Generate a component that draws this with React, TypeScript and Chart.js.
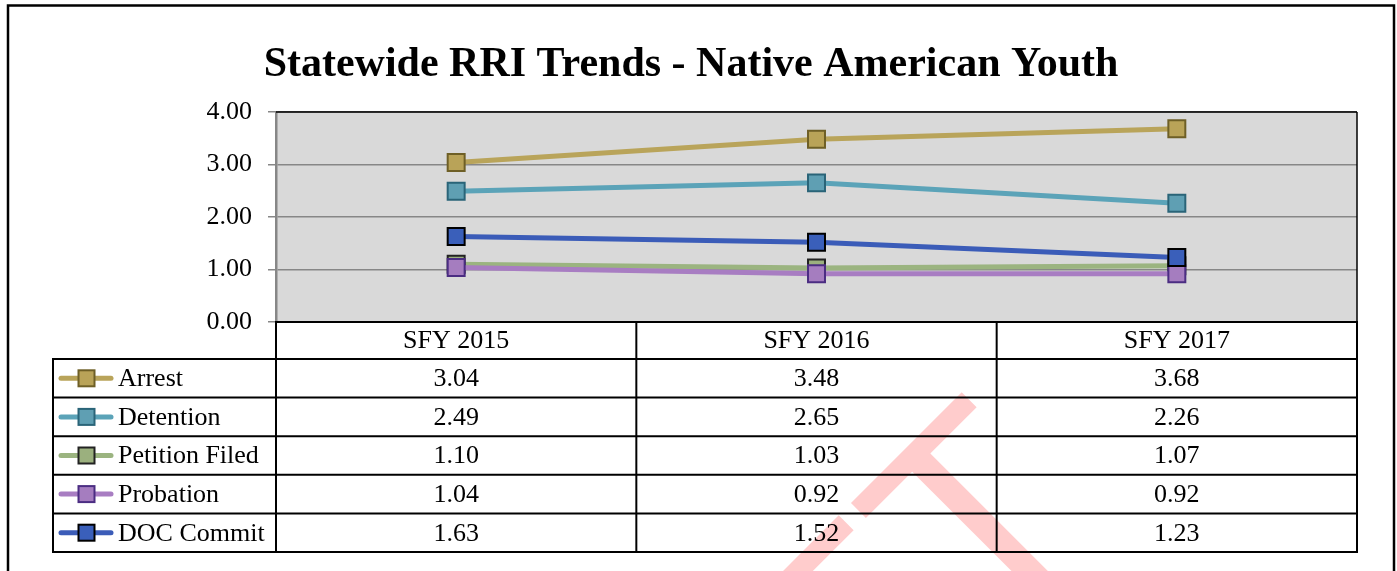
import React, { useEffect, useRef } from 'react';
import { Chart, registerables } from 'chart.js';

Chart.register(...registerables);

const chartTitle = 'Statewide RRI Trends - Native American Youth';
const categories = ['SFY 2015', 'SFY 2016', 'SFY 2017'];
const seriesNames = ['Arrest', 'Detention', 'Petition Filed', 'Probation', 'DOC Commit'];
const arrest = [3.04, 3.48, 3.68];
const detention = [2.49, 2.65, 2.26];
const petitionFiled = [1.10, 1.03, 1.07];
const probation = [1.04, 0.92, 0.92];
const docCommit = [1.63, 1.52, 1.23];
const yMin = 0;
const yMax = 4;
const yStep = 1;
const watermarkText = 'DRAFT';

const seriesValues = [arrest, detention, petitionFiled, probation, docCommit];

const lineColors = ['#b9a45a', '#5ba3b8', '#9bb480', '#a87dc2', '#3b5cb8'];
const fillColors = ['#b9a358', '#5f9fb3', '#9bb07e', '#a57dbf', '#3a5fba'];
const borderColors = ['#6e5f26', '#2a6478', '#222222', '#4b2d82', '#000000'];

const W = 1397;
const H = 571;
const serif = '"Liberation Serif", "Times New Roman", serif';

function line(ctx: CanvasRenderingContext2D, x1: number, y1: number, x2: number, y2: number) {
  ctx.beginPath();
  ctx.moveTo(x1, y1);
  ctx.lineTo(x2, y2);
  ctx.stroke();
}

const decor = {
  id: 'decor',
  beforeDraw(chart: any) {
    const { ctx, chartArea: a } = chart;
    ctx.save();
    ctx.fillStyle = '#ffffff';
    ctx.fillRect(0, 0, chart.width, chart.height);
    // watermark
    ctx.save();
    ctx.rotate(-Math.PI / 4);
    ctx.font = `277px "Liberation Sans", Arial, sans-serif`;
    ctx.fillStyle = 'rgba(255,0,0,0.2)';
    ctx.textAlign = 'right';
    ctx.textBaseline = 'alphabetic';
    ctx.fillText(watermarkText, 409, 1148);
    ctx.restore();
    // plot background
    ctx.fillStyle = '#d9d9d9';
    ctx.fillRect(a.left, a.top, a.right - a.left, a.bottom - a.top);
    ctx.restore();
  },
  afterDraw(chart: any) {
    const { ctx, chartArea: a } = chart;
    const xs = chart.scales.x;
    ctx.save();
    // outer frame
    ctx.strokeStyle = '#000';
    ctx.lineWidth = 2.5;
    ctx.strokeRect(8, 5.5, 1386, 700);

    // title
    ctx.fillStyle = '#000';
    ctx.font = `bold 42px ${serif}`;
    ctx.textAlign = 'center';
    ctx.textBaseline = 'alphabetic';
    ctx.fillText(chartTitle, 691, 76);

    // plot border top / right
    ctx.lineWidth = 1.5;
    line(ctx, a.left, a.top, a.right, a.top);
    line(ctx, a.right, a.top, a.right, a.bottom);

    // table
    const L = a.left;
    const R = a.right;
    const colW = (R - L) / categories.length;
    const top = a.bottom;
    const headerH = 37;
    const rowH = 38.6;
    const tableLeft = 53;
    const rowsTop = top + headerH;
    const bottom = rowsTop + rowH * seriesNames.length;

    ctx.lineWidth = 2;
    line(ctx, L - 1, top, R + 1, top);
    for (let i = 0; i <= seriesNames.length; i++) {
      const y = rowsTop + i * rowH;
      line(ctx, tableLeft - 1, y, R + 1, y);
    }
    for (let j = 0; j <= categories.length; j++) {
      const x = L + j * colW;
      line(ctx, x, top, x, bottom);
    }
    line(ctx, tableLeft, rowsTop, tableLeft, bottom);

    ctx.font = `26px ${serif}`;
    ctx.textBaseline = 'middle';
    ctx.textAlign = 'center';
    ctx.fillStyle = '#000';
    categories.forEach((c, i) => {
      ctx.fillText(c, xs.getPixelForValue(i), top + headerH / 2 + 1);
    });

    seriesNames.forEach((name, r) => {
      const cy = rowsTop + r * rowH + rowH / 2;
      // legend key
      ctx.strokeStyle = lineColors[r];
      ctx.lineWidth = 5;
      ctx.lineCap = 'round';
      line(ctx, 61, cy, 111, cy);
      ctx.lineCap = 'butt';
      ctx.fillStyle = fillColors[r];
      ctx.fillRect(78.5, cy - 8, 16, 16);
      ctx.strokeStyle = borderColors[r];
      ctx.lineWidth = 2;
      ctx.strokeRect(78.5, cy - 8, 16, 16);
      ctx.fillStyle = '#000';
      ctx.textAlign = 'left';
      ctx.fillText(name, 118, cy + 1);
      ctx.textAlign = 'center';
      seriesValues[r].forEach((v, i) => {
        ctx.fillText(v.toFixed(2), xs.getPixelForValue(i), cy + 1);
      });
    });
    ctx.restore();
  },
};

export default function App() {
  const ref = useRef<HTMLCanvasElement | null>(null);
  useEffect(() => {
    document.body.style.margin = '0';
    const canvas = ref.current;
    if (!canvas) return;
    const chart = new Chart(canvas, {
      type: 'line',
      data: {
        labels: categories,
        datasets: seriesNames.map((name, i) => ({
          label: name,
          data: seriesValues[i],
          borderColor: lineColors[i],
          backgroundColor: fillColors[i],
          pointBackgroundColor: fillColors[i],
          pointBorderColor: borderColors[i],
          pointBorderWidth: 2,
          pointRadius: 12,
          pointHoverRadius: 12,
          pointStyle: 'rect',
          borderWidth: 5,
          tension: 0,
          fill: false,
          order: seriesNames.length - i,
        })),
      },
      options: {
        animation: false,
        responsive: false,
        devicePixelRatio: 1,
        layout: { padding: { left: 0, right: W - 1357, top: 112, bottom: H - 322 } },
        plugins: {
          legend: { display: false },
          tooltip: { enabled: false },
          title: { display: false },
        },
        scales: {
          x: {
            type: 'category',
            offset: true,
            display: false,
          },
          y: {
            min: yMin,
            max: yMax,
            afterFit: (scale: any) => {
              scale.width = 276;
            },
            ticks: {
              stepSize: yStep,
              padding: 16,
              color: '#000',
              font: { family: '"Liberation Serif", "Times New Roman", serif', size: 26 },
              callback: (v: any) => Number(v).toFixed(2),
            },
            grid: {
              color: '#878787',
              lineWidth: 1.5,
              tickLength: 8,
              drawTicks: true,
            },
            border: { display: true, color: '#878787', width: 2.5 },
          },
        },
      },
      plugins: [decor],
    });
    return () => chart.destroy();
  }, []);
  return (
    <canvas ref={ref} width={W} height={H} style={{ display: 'block', width: W, height: H }} />
  );
}
